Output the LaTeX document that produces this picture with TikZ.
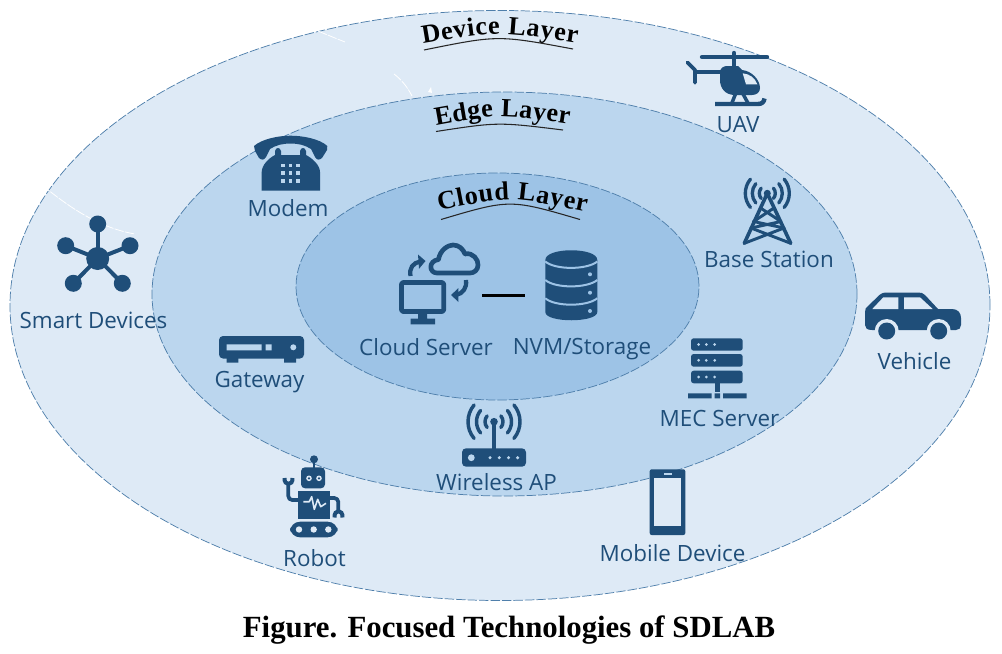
\documentclass[tikz,border=0pt]{standalone}
\usepackage{fontspec}
\setmainfont{Open Sans}
\newfontfamily\serifbold{Liberation Serif}
\usetikzlibrary{shapes.geometric,decorations.text}
\definecolor{bgA}{HTML}{DEEAF6}
\definecolor{bgB}{HTML}{BBD6EE}
\definecolor{bgC}{HTML}{9DC3E6}
\definecolor{ink}{HTML}{1F4E79}
\definecolor{rim}{HTML}{4F7FAB}
\newcommand{\titlefont}{\serifbold\bfseries\fontsize{19.6pt}{22pt}\selectfont}
\tikzset{
  layer/.style={ellipse,inner sep=0pt,draw=rim,line width=0.55pt,dash pattern=on 7pt off 1.6pt},
  lbl/.style={anchor=base,text=ink,font=\fontsize{16.8pt}{19pt}\selectfont,inner sep=0pt},
  solid ink/.style={fill=ink,draw=none},
  stroke ink/.style={draw=ink,line cap=round,line join=round},
  curved title/.style={decorate,decoration={text along path,text={|\titlefont|#1},text align={fit to path}}},
  underline/.style={draw=black!85,line width=0.8pt},
  scar/.style={draw=white,line width=0.6pt,dash pattern=on 7pt off 1pt}
}
\begin{document}
\begin{tikzpicture}[x=0.75pt,y=-0.75pt]
\useasboundingbox (0,0) rectangle (1002,653);
% layers
\node[layer,fill=bgA,minimum width=735pt,minimum height=442.5pt] (outer) at (500,305.5) {};
\node[layer,fill=bgB,minimum width=528.75pt,minimum height=303pt] (middle) at (504.5,294) {};
\node[layer,fill=bgC,minimum width=302.25pt,minimum height=170.25pt] (inner) at (497.5,286.5) {};
% faint white marks
\draw[scar] (318,31) .. controls (325,34) and (335,38) .. (345,42);
\draw[scar] (394,74) .. controls (402,80) and (408,88) .. (412,96);
\fill[white] (431,87) -- (428,92) -- (432,93) -- cycle;
\draw[scar] (42,185) .. controls (70,208) and (100,228) .. (135,234);
% curved titles
\path[curved title={Device Layer}] (423,44) .. controls (499,31) .. (577,43);
\draw[underline] (424,50) .. controls (498,35) .. (573,49);
\path[curved title={Edge Layer}] (436,125.5) .. controls (500,114) .. (569,124.5);
\draw[underline] (436,131.5) .. controls (498,122) .. (563,130);
\path[curved title={Cloud Layer}] (439,210.5) .. controls (510,196) .. (586,212);
\draw[underline] (441,219.5) .. controls (510,199) .. (580,219.5);

% Smart devices
\foreach \x/\y in {97.7/224,65.7/245.7,130/245.7,73.3/283.3,122.3/283.3}{
  \draw[ink,line width=3pt] (97.7,258.5) -- (\x,\y);
  \fill[ink] (\x,\y) circle[radius=8.5];
}
\fill[ink] (97.7,258.5) circle[radius=11.5];
% Modem
\fill[ink] (254,146) .. controls (262,139) and (278,135.7) .. (290.7,135.7) .. controls (303,135.7) and (320,139) .. (327.3,146) -- (327,150) -- (322,158) .. controls (319,160.5) and (317,160) .. (315,157) -- (311,149) .. controls (305,145) and (298,143.5) .. (290.7,143.5) .. controls (283,143.5) and (276,145) .. (270,149) -- (266,157) .. controls (264,160) and (262,160.5) .. (259,158) -- (255,151) -- cycle;
\fill[ink] (261.7,190.7) -- (320,190.7) -- (320,172) .. controls (320,165) and (312,158) .. (306,155) -- (306,151) .. controls (305,147) and (301,147) .. (300,151) -- (300,155) -- (281,155) -- (281,151) .. controls (280,147) and (276,147) .. (275,151) -- (275,155) .. controls (269,158) and (261.7,165) .. (261.7,172) -- cycle;
\foreach \x in {282.7,290.3,298}{\foreach \y in {165.3,173,181}{
  \fill[bgB] (\x-1.8,\y-1.8) rectangle (\x+1.8,\y+1.8);}}
% Gateway
\fill[ink,rounded corners=3pt] (219,336) rectangle (304,358.5);
\fill[ink] (226.7,358) rectangle (238.3,362.7) (284,358) rectangle (296,362.7);
\fill[bgB] (226.7,344.3) rectangle (261.7,350.3) (265.7,344.3) rectangle (271.7,350.3);
\fill[bgB] (293.3,347.3) circle[radius=3];
% Cloud server
\draw[ink,line width=3.6pt,rounded corners=1.5pt,line join=round] (401.5,282.5) rectangle (443.7,311.5);
\fill[ink] (418,314) rectangle (427,319) (410.7,318.5) rectangle (435,324.3);
\draw[stroke ink,line width=3.5pt,line cap=butt] (437,273) .. controls (429,273) and (428,261) .. (438.5,259.5) .. controls (440,250) and (448,245) .. (453,245) .. controls (459,245) and (463,249) .. (465,254) .. controls (473,252) and (478.5,260) .. (478,265) .. controls (478,270) and (474,273) .. (470,273) -- cycle;
\draw[ink,line width=3.2pt] (410.5,276) .. controls (409,268) and (413,263) .. (420,261.5);
\fill[ink] (418,254.5) -- (425.5,261) -- (419,268.8) -- cycle;
\draw[ink,line width=3.2pt] (466,280) .. controls (467,288) and (463,293.5) .. (456,295);
\fill[ink] (451.2,295) -- (458.3,288) -- (458.3,302) -- cycle;
\coordinate (linkA) at (482.3,295.3);
\coordinate (linkB) at (525,295.3);
\draw[black,line width=2.6pt] (linkA) -- (linkB);
% Storage
\fill[ink] (545.3,260) .. controls (545.3,247) and (597.3,247) .. (597.3,260) -- (597.3,312) .. controls (597.3,323) and (545.3,323) .. (545.3,312) -- cycle;
\foreach \y in {261.5,280,298.3}{
  \draw[bgC,line width=1.5pt] (545.3,\y) .. controls (555,\y+8.5) and (587,\y+8.5) .. (597.3,\y);
}
\foreach \y in {274.3,292.7,311}{\fill[bgC] (590,\y) circle[radius=2];}
% UAV
\draw[stroke ink,line width=3.3pt] (702,57) -- (767,57);
\draw[stroke ink,line width=3.3pt] (734,53) -- (734,68);
\draw[stroke ink,line width=2.8pt] (687.5,62.5) -- (695,70) -- (695,82.7);
\draw[stroke ink,line width=2.8pt] (695,72) -- (725,72);
\fill[ink] (727,66) -- (738,66) -- (742,70) .. controls (752,71) and (760,80) .. (760,88) .. controls (760,92) and (757,95) .. (752,95) -- (735,95) .. controls (725,95) and (720,88) .. (720,80) -- (720,72) .. controls (720,68) and (724,66) .. (727,66) -- cycle;
\fill[bgA] (742.7,73.3) .. controls (750,74) and (755,78) .. (757.3,84.3) -- (746,84.3) -- cycle;
\draw[ink,line width=2.6pt] (735.5,94) -- (731.5,104) (743,94) -- (748.5,104);
\draw[stroke ink,line width=3.3pt,line cap=butt] (715,104) -- (758,104) .. controls (762,104) and (764,102) .. (764.5,98.5);
% Tower
\foreach \r in {8,15,22}{
  \draw[stroke ink,line width=2.5pt] (767.3,193.3) ++(140:\r) arc[start angle=140,end angle=220,radius=\r];
  \draw[stroke ink,line width=2.5pt] (767.3,193.3) ++(-40:\r) arc[start angle=-40,end angle=40,radius=\r];
}
\fill[ink] (767.3,193.3) circle[radius=3.5];
\draw[stroke ink,line width=2.7pt] (744.3,243.3) -- (767.3,193.3) -- (790.7,243.3);
\draw[stroke ink,line width=2.2pt] (760.5,208) -- (781,221.5) -- (751,228) (774,208) -- (753.5,221.5) -- (784,228);
\draw[stroke ink,line width=2.2pt] (751,228) -- (790.7,243.3) (784,228) -- (744.3,243.3);
% MEC server
\foreach \t/\b in {338.3/350.7,354/366.7,370.7/383.3}{
  \fill[ink,rounded corners=2pt] (691,\t) rectangle (742.7,\b);
  \foreach \x in {698.6,706.3,714.7}{\fill[bgB] (\x,{(\t+\b)/2}) circle[radius=1.5];}
}
\fill[ink] (715,383) rectangle (719.5,392);
\fill[ink] (688,393.3) rectangle (711.5,398.3) (714.5,393.3) rectangle (720,398.3) (723,393.3) rectangle (746.5,398.3);
% Wireless AP
\fill[ink,rounded corners=3pt] (462,448.3) rectangle (526,466.7);
\fill[bgB] (471.3,457.7) circle[radius=3.4];
\foreach \x in {490,499.3,508.5,517.6}{\fill[bgB] (\x,457.7) circle[radius=1.7];}
\draw[ink,line width=2.6pt] (494,421.7) -- (494,449);
\fill[ink] (494,421.7) circle[radius=3.8];
\foreach \r in {9,17.5,26}{
  \draw[stroke ink,line width=2.6pt] (494,421.7) ++(140:\r) arc[start angle=140,end angle=220,radius=\r];
  \draw[stroke ink,line width=2.6pt] (494,421.7) ++(-40:\r) arc[start angle=-40,end angle=40,radius=\r];
}
% Robot
\draw[ink,line width=2pt] (314,460) -- (314,468);
\fill[ink] (314,459.3) circle[radius=4];
\fill[ink,rounded corners=3pt] (301,467.3) rectangle (325,488.3);
\foreach \x in {309,319}{\fill[bgA] (\x,478.3) circle[radius=2.8];\fill[ink] (\x,478.3) circle[radius=1.3];}
\fill[ink] (298.3,491) rectangle (330,519);
\draw[bgA,line width=1.2pt,line join=round] (303.3,501.7) -- (309.3,501.7) -- (311.7,496.7) -- (314.3,509.3) -- (317.7,499.3) -- (320.7,506.7) -- (326,503.3);
\draw[stroke ink,line width=2.8pt,rounded corners=3pt,line cap=butt] (298.3,500) -- (288.3,500) -- (288.3,484);
\draw[ink,line width=3pt] (284.5,478) .. controls (284,486) and (293,486) .. (292.5,478);
\draw[stroke ink,line width=2.8pt,rounded corners=3pt,line cap=butt] (330,498) -- (338.3,498) -- (338.3,511);
\draw[ink,line width=3pt] (334.5,517.5) .. controls (334,509) and (343,509) .. (342.5,517.5);
\fill[ink,rounded corners=7.5pt] (290,521.7) rectangle (337.7,537.3);
\foreach \x in {299,313.7,328.3}{\fill[bgA] (\x,529.5) circle[radius=3.2];}
% Mobile
\fill[ink,rounded corners=1.5pt] (649.7,469.3) rectangle (685.3,535);
\fill[bgA] (654.3,477.7) rectangle (681,526);
\fill[bgB] (663.5,472.8) rectangle (672,474.8);
% Vehicle
\fill[ink] (872,330) .. controls (867,330) and (865,328) .. (865,325) -- (865,312) .. controls (865,309) and (866,307) .. (868,306) -- (880,294.5) .. controls (882,293) and (884,292.5) .. (886,292.5) -- (918,292.5) .. controls (921,292.5) and (923,293) .. (925,295) -- (938,309) -- (952,309) .. controls (958,309) and (961,313) .. (961,318) -- (961,325) .. controls (961,328) and (959,330) .. (956,330) -- cycle;
\fill[bgA] (872.3,309) -- (883.3,297.3) -- (898.3,297.3) -- (898.3,309) -- cycle;
\fill[bgA] (904,297.3) -- (920,297.3) -- (932.7,309) -- (904,309) -- cycle;
\foreach \x in {886.7,938.7}{\fill[bgA] (\x,331) circle[radius=12];\fill[ink] (\x,331) circle[radius=8.5];}
% labels
\node[lbl] (smart) at (93.5,328) {Smart Devices};
\node[lbl] (modem) at (288,216) {Modem};
\node[lbl] (gateway) at (259.5,387) {Gateway};
\node[lbl] (cloud) at (426,355) {Cloud Server};
\node[lbl] (nvm) at (582,354.5) {NVM/Storage};
\node[lbl] (ap) at (496.5,490) {Wireless AP};
\node[lbl] (robot) at (314.5,566) {Robot};
\node[lbl] (mobile) at (672.5,561) {Mobile Device};
\node[lbl] (mec) at (719.5,426) {MEC Server};
\node[lbl] (base) at (769,267) {Base Station};
\node[lbl] (uav) at (738,132.5) {UAV};
\node[lbl] (vehicle) at (914.5,369) {Vehicle};
\node[anchor=base,inner sep=0pt,font=\serifbold\bfseries\fontsize{23.1pt}{25pt}\selectfont] (caption) at (509,637) {Figure. Focused Technologies of SDLAB};
\end{tikzpicture}
\end{document}
